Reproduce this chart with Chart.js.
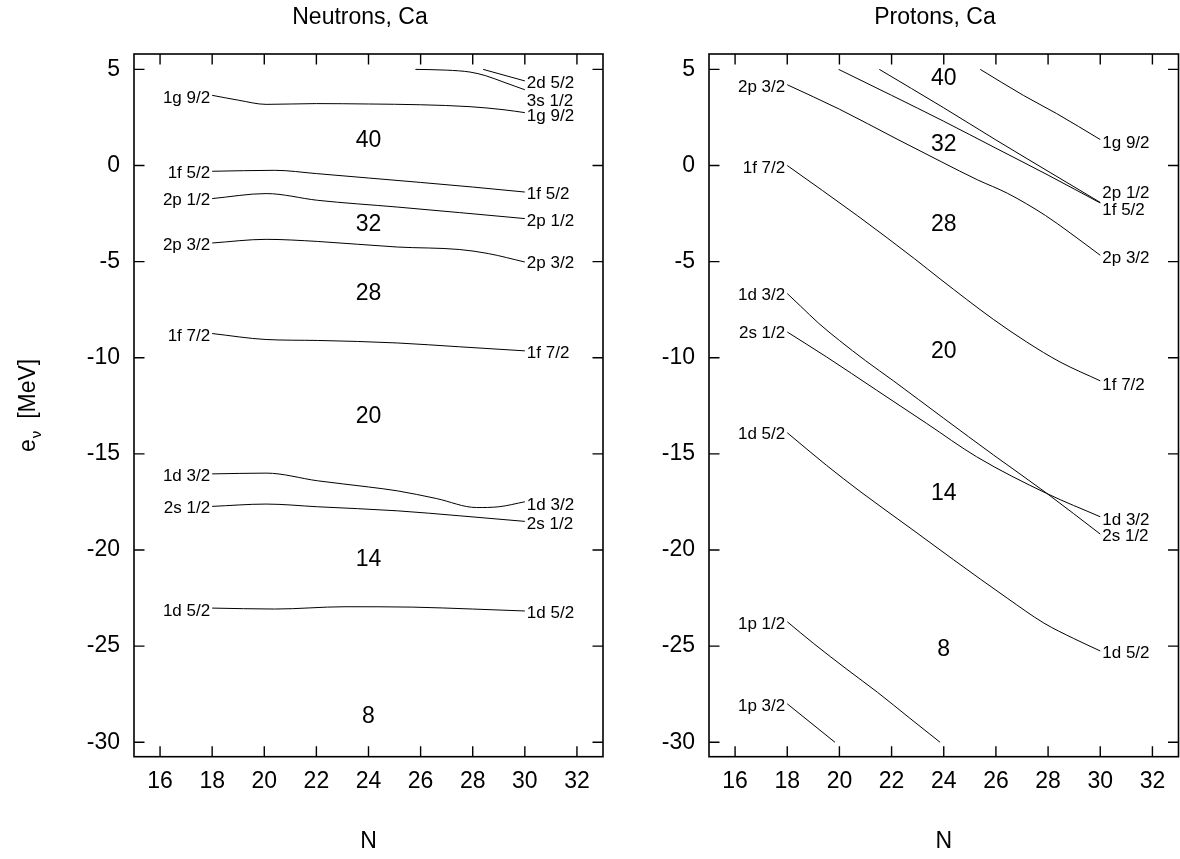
<!DOCTYPE html>
<html><head><meta charset="utf-8">
<script src="https://cdn.jsdelivr.net/npm/chart.js@4.4.1/dist/chart.umd.min.js"></script>
<style>
html,body{margin:0;padding:0;background:#fff;overflow:hidden;width:1180px;height:859px;}
#wrap{position:relative;width:1180px;height:859px;overflow:hidden;background:#fff;}
canvas{position:absolute;top:0;}
#cL{left:0;width:720px;height:859px;}
#cR{left:640px;width:590px;height:859px;}
</style></head><body>
<div id="wrap"><canvas id="cL" width="720" height="859"></canvas><canvas id="cR" width="590" height="859"></canvas></div>
<script>
// ---------- axes ----------
const X_TICKS = [16, 18, 20, 22, 24, 26, 28, 30, 32];
const Y_TICKS = [-30, -25, -20, -15, -10, -5, 0, 5];
const X_MIN = 15, X_MAX = 33, Y_MIN = -30.75, Y_MAX = 5.8;

// ---------- neutron single-particle levels [N, e (MeV)] ----------
const n_2d52 = [[28.4, 5.0], [30, 4.4]];
const n_3s12 = [[25.8, 5.0], [27, 4.96], [27.9, 4.86], [28.5, 4.67], [29.2, 4.33], [30, 3.94]];
const n_1g92 = [[18, 3.65], [19, 3.4], [20.07, 3.18], [22, 3.22], [24, 3.2], [26, 3.16], [27.9, 3.06], [29.2, 2.9], [30, 2.75]];
const n_1f52 = [[18, -0.30], [20.4, -0.25], [22, -0.42], [24, -0.65], [26, -0.88], [28, -1.12], [30, -1.38]];
const n_2p12 = [[18, -1.72], [20.07, -1.46], [22.05, -1.81], [25.1, -2.16], [27.5, -2.45], [30, -2.76]];
const n_2p32 = [[18, -4.03], [20.07, -3.84], [22.05, -3.95], [25.1, -4.24], [27.5, -4.37], [28.6, -4.58], [30, -5.02]];
const n_1f72 = [[18, -8.74], [20.07, -9.05], [22.05, -9.1], [25.1, -9.23], [27.5, -9.43], [30, -9.64]];
const n_1d32 = [[18, -16.04], [20.07, -16.0], [22.05, -16.4], [24, -16.72], [25.1, -16.92], [26.6, -17.32], [28.15, -17.79], [29, -17.75], [30, -17.49]];
const n_2s12 = [[18, -17.73], [20.07, -17.61], [22.05, -17.75], [25.1, -17.96], [27.5, -18.22], [30, -18.51]];
const n_1d52 = [[18, -23.02], [20.4, -23.07], [23.1, -22.95], [25.7, -22.97], [28, -23.07], [30, -23.17]];

// ---------- proton single-particle levels [N, e (MeV)] ----------
const p_1g92 = [[25.4, 5.0], [27.05, 3.65], [28.33, 2.70], [30, 1.35]];
const p_1f52 = [[21.53, 5.0], [24, 3.0], [26, 1.33], [28, -0.3], [30, -1.92]];
const p_2p12 = [[19.97, 5.0], [22, 3.65], [24, 2.3], [26, 0.9], [28, -0.5], [30, -1.95]];
const p_2p32 = [[18, 4.2], [20, 2.93], [22.17, 1.40], [23.9, 0.2], [25.3, -0.75], [26.45, -1.45], [27.9, -2.6], [28.84, -3.5], [30, -4.67]];
const p_1f72 = [[18, 0.0], [20.7, -2.62], [22.88, -4.85], [23.86, -5.9], [25.9, -8.0], [27.18, -9.18], [28.46, -10.22], [30, -11.2]];
const p_1d32 = [[18, -6.66], [18.5, -7.3], [19.2, -8.2], [20, -9.1], [21, -10.15], [22.07, -11.2], [24, -13.15], [25.9, -15.05], [27.95, -17.05], [30, -19.17]];
const p_2s12 = [[18, -8.66], [19.51, -9.96], [21.43, -11.69], [23.35, -13.42], [25.26, -15.15], [27.95, -17.06], [30, -18.27]];
const p_1d52 = [[18, -13.9], [19.51, -15.6], [20.79, -16.95], [22.71, -18.85], [24.37, -20.5], [26.43, -22.5], [27.84, -23.8], [28.98, -24.6], [30, -25.25]];
const p_1p12 = [[18, -23.73], [19.0, -24.85], [20.33, -26.25], [21.46, -27.4], [22.7, -28.75], [23.86, -30.0]];
const p_1p32 = [[18, -28.0], [19.83, -30.0]];

// ---------- level labels ----------
const LEFT_LABEL_N = 18, RIGHT_LABEL_N = 30;
const nLeftNames = ['1g 9/2', '1f 5/2', '2p 1/2', '2p 3/2', '1f 7/2', '1d 3/2', '2s 1/2', '1d 5/2'];
const nLeftE = [3.51, -0.39, -1.81, -4.15, -8.88, -16.19, -17.84, -23.17];
const nRightNames = ['2d 5/2', '3s 1/2', '1g 9/2', '1f 5/2', '2p 1/2', '2p 3/2', '1f 7/2', '1d 3/2', '2s 1/2', '1d 5/2'];
const nRightE = [4.26, 3.35, 2.56, -1.50, -2.90, -5.10, -9.75, -17.66, -18.67, -23.29];
const pLeftNames = ['2p 3/2', '1f 7/2', '1d 3/2', '2s 1/2', '1d 5/2', '1p 1/2', '1p 3/2'];
const pLeftE = [4.05, -0.13, -6.75, -8.74, -14.0, -23.85, -28.15];
const pRightNames = ['1g 9/2', '2p 1/2', '1f 5/2', '2p 3/2', '1f 7/2', '1d 3/2', '2s 1/2', '1d 5/2'];
const pRightE = [1.14, -1.46, -2.33, -4.81, -11.43, -18.44, -19.31, -25.37];

// ---------- shell-gap (magic) numbers ----------
const MAGIC_LABELS = ['40', '32', '28', '20', '14', '8'];
const MAGIC_N = 24;
const nMagicE = [1.31, -3.06, -6.68, -13.07, -20.49, -28.67];
const pMagicE = [4.52, 1.08, -3.06, -9.70, -17.09, -25.2];

// ---------- rendering ----------
const FONT = "'Liberation Sans', Arial, Helvetica, sans-serif";
const BIG = 23, SMALL = 17;

function toDataset(name, pts) {
  return {
    label: name,
    data: pts.map(p => ({x: p[0], y: p[1]})),
    borderColor: '#000', borderWidth: 1, pointRadius: 0, pointHoverRadius: 0,
    fill: false, cubicInterpolationMode: 'monotone'
  };
}

function decorPlugin(cfg) {
  return {
    id: 'decor',
    afterDatasetsDraw(chart) {
      const {ctx, chartArea: {left, right, top, bottom}, scales: {x, y}} = chart;
      ctx.save();
      // frame
      ctx.strokeStyle = '#000';
      ctx.lineWidth = 1.6;
      ctx.strokeRect(left, top, right - left, bottom - top);
      // inward ticks on all four sides
      ctx.lineWidth = 1.4;
      ctx.beginPath();
      const TL = 10.5;
      X_TICKS.forEach(v => {
        const px = x.getPixelForValue(v);
        ctx.moveTo(px, bottom); ctx.lineTo(px, bottom - TL);
        ctx.moveTo(px, top); ctx.lineTo(px, top + TL);
      });
      Y_TICKS.forEach(v => {
        const py = y.getPixelForValue(v);
        ctx.moveTo(left, py); ctx.lineTo(left + TL, py);
        ctx.moveTo(right, py); ctx.lineTo(right - TL, py);
      });
      ctx.stroke();
      // level labels
      ctx.fillStyle = '#000';
      ctx.textBaseline = 'middle';
      ctx.font = SMALL + 'px ' + FONT;
      ctx.textAlign = 'right';
      const xl = x.getPixelForValue(LEFT_LABEL_N) - 2;
      cfg.leftNames.forEach((t, i) => ctx.fillText(t, xl, y.getPixelForValue(cfg.leftE[i])));
      ctx.textAlign = 'left';
      const xr = x.getPixelForValue(RIGHT_LABEL_N) + 2;
      cfg.rightNames.forEach((t, i) => ctx.fillText(t, xr, y.getPixelForValue(cfg.rightE[i])));
      // magic numbers
      ctx.textAlign = 'center';
      ctx.font = BIG + 'px ' + FONT;
      const xm = x.getPixelForValue(MAGIC_N);
      MAGIC_LABELS.forEach((t, i) => ctx.fillText(t, xm, y.getPixelForValue(cfg.magicE[i])));
      // y axis title e_nu [MeV]
      if (cfg.yTitle) {
        const cy = (top + bottom) / 2;
        ctx.translate(27, cy);
        ctx.rotate(-Math.PI / 2);
        ctx.textAlign = 'left';
        ctx.textBaseline = 'alphabetic';
        ctx.font = BIG + 'px ' + FONT;
        const wE = ctx.measureText('e').width;
        const wM = ctx.measureText('  [MeV]').width;
        ctx.font = '15px ' + FONT;
        const wN = ctx.measureText('\u03bd').width;
        const total = wE + wN + wM;
        let x0 = -total / 2;
        const base = 8;
        ctx.font = BIG + 'px ' + FONT;
        ctx.fillText('e', x0, base);
        ctx.font = '15px ' + FONT;
        ctx.fillText('\u03bd', x0 + wE + 1, base + 6);
        ctx.font = BIG + 'px ' + FONT;
        ctx.fillText('  [MeV]', x0 + wE + wN, base);
      }
      ctx.restore();
    }
  };
}

function makeChart(canvasId, titleText, series, cfg, yAxisW, rightW) {
  return new Chart(document.getElementById(canvasId), {
    type: 'line',
    data: {datasets: series.map(s => toDataset(s[0], s[1]))},
    options: {
      responsive: false, animation: false, devicePixelRatio: 1,
      layout: {padding: 0},
      events: [],
      plugins: {
        legend: {display: false},
        tooltip: {enabled: false},
        title: {display: true, text: titleText, color: '#000',
          font: {family: FONT, size: BIG, weight: 'normal'},
          padding: {top: 4.2, bottom: 22.2}}
      },
      scales: {
        x: {
          type: 'linear', min: X_MIN, max: X_MAX, position: 'bottom',
          afterBuildTicks: s => { s.ticks = X_TICKS.map(v => ({value: v})); },
          afterFit: s => { s.height = 102.3; },
          grid: {display: false, drawTicks: false}, border: {display: false},
          ticks: {color: '#000', font: {family: FONT, size: BIG}, padding: 11, maxRotation: 0, autoSkip: false},
          title: {display: true, text: 'N', color: '#000', font: {family: FONT, size: BIG}, padding: {top: 0, bottom: 3.2}}
        },
        y: {
          type: 'linear', min: Y_MIN, max: Y_MAX, position: 'left',
          afterBuildTicks: s => { s.ticks = Y_TICKS.map(v => ({value: v})); },
          afterFit: s => { s.width = yAxisW; },
          grid: {display: false, drawTicks: false}, border: {display: false},
          ticks: {color: '#000', font: {family: FONT, size: BIG}, padding: 14, autoSkip: false}
        },
        yR: {
          type: 'linear', min: Y_MIN, max: Y_MAX, position: 'right', display: true,
          afterFit: s => { s.width = rightW; },
          grid: {display: false, drawTicks: false}, border: {display: false},
          ticks: {display: false}
        }
      }
    },
    plugins: [decorPlugin(cfg)]
  });
}

makeChart('cL', 'Neutrons, Ca', [
  ['2d 5/2', n_2d52], ['3s 1/2', n_3s12], ['1g 9/2', n_1g92], ['1f 5/2', n_1f52],
  ['2p 1/2', n_2p12], ['2p 3/2', n_2p32], ['1f 7/2', n_1f72], ['1d 3/2', n_1d32],
  ['2s 1/2', n_2s12], ['1d 5/2', n_1d52]
], {leftNames: nLeftNames, leftE: nLeftE, rightNames: nRightNames, rightE: nRightE, magicE: nMagicE, yTitle: true},
134, 117);

makeChart('cR', 'Protons, Ca', [
  ['1g 9/2', p_1g92], ['1f 5/2', p_1f52], ['2p 1/2', p_2p12], ['2p 3/2', p_2p32],
  ['1f 7/2', p_1f72], ['1d 3/2', p_1d32], ['2s 1/2', p_2s12], ['1d 5/2', p_1d52],
  ['1p 1/2', p_1p12], ['1p 3/2', p_1p32]
], {leftNames: pLeftNames, leftE: pLeftE, rightNames: pRightNames, rightE: pRightE, magicE: pMagicE, yTitle: false},
69, 51.5);
</script></body></html>
